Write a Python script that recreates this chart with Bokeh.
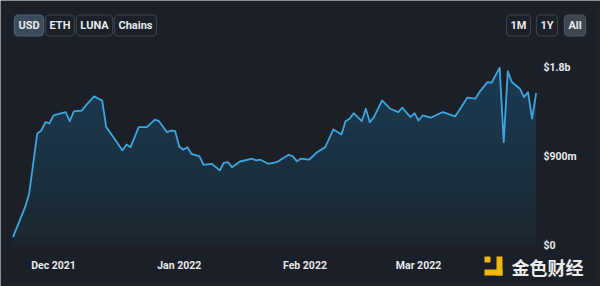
import numpy as np
import pandas as pd
from bokeh.plotting import figure
from bokeh.models import Label, BoxAnnotation, Range1d
from bokeh.embed import file_html
from bokeh.resources import INLINE

# ---- data (TVL in millions USD) ----
dates = ["2021-11-21","2021-11-24","2021-11-25","2021-11-27","2021-11-28","2021-11-29","2021-11-30","2021-12-01","2021-12-04","2021-12-05",
         "2021-12-06","2021-12-08","2021-12-09","2021-12-11","2021-12-13","2021-12-14","2021-12-16","2021-12-18","2021-12-19","2021-12-20",
         "2021-12-22","2021-12-24","2021-12-26","2021-12-27","2021-12-29","2021-12-30","2021-12-31","2022-01-01","2022-01-02","2022-01-03",
         "2022-01-04","2022-01-06","2022-01-07","2022-01-09","2022-01-11","2022-01-12","2022-01-13","2022-01-14","2022-01-16","2022-01-19",
         "2022-01-20","2022-01-21","2022-01-23","2022-01-25","2022-01-28","2022-01-29","2022-01-30","2022-01-31","2022-02-02","2022-02-04",
         "2022-02-06","2022-02-08","2022-02-10","2022-02-11","2022-02-12","2022-02-13","2022-02-15","2022-02-16","2022-02-17","2022-02-18",
         "2022-02-20","2022-02-22","2022-02-24","2022-02-25","2022-02-27","2022-02-28","2022-03-01","2022-03-02","2022-03-04","2022-03-06",
         "2022-03-07","2022-03-10","2022-03-11","2022-03-13","2022-03-15","2022-03-16","2022-03-18","2022-03-19","2022-03-21","2022-03-22",
         "2022-03-23","2022-03-24","2022-03-26","2022-03-27","2022-03-28","2022-03-29","2022-03-30"]
tvl_m = [84,387,525,1131,1161,1245,1232,1313,1346,1255,
         1353,1363,1414,1505,1464,1195,1081,960,1020,993,
         1195,1195,1270,1255,1144,1161,1154,1000,967,993,
         926,899,815,825,758,835,841,791,848,876,
         859,866,825,841,916,899,851,876,866,942,
         993,1172,1121,1255,1280,1336,1255,1381,1245,1296,
         1464,1381,1346,1391,1296,1336,1262,1313,1290,1330,
         1346,1303,1363,1492,1482,1548,1649,1643,1795,1043,
         1760,1650,1583,1498,1548,1280,1538]
x_tick_dates = ["2021-12-01", "2022-01-01", "2022-02-01", "2022-03-01"]
y_ticks = [0, 900, 1800]
y_tick_labels = ["$0", "$900m", "$1.8b"]
left_buttons = ["USD", "ETH", "LUNA", "Chains"]
right_buttons = ["1M", "1Y", "All"]

W, H = 600, 286
BG = "#1b1f27"
LINE = "#3ea6dd"
TXT = "#e8eaed"
FONT = "Roboto"

x = pd.to_datetime(dates)
v = np.array(tvl_m, dtype=float)

# frame covers the whole canvas; ranges chosen so the plot sits where the reference has it
px_per_day = 4.056
x_start = pd.Timestamp("2021-12-01") - pd.Timedelta(days=53 / px_per_day)
x_end = x_start + pd.Timedelta(days=W / px_per_day)
px_per_m = 178.3 / 1800.0
y_top = 245 / px_per_m
y_bot = -(H - 245) / px_per_m

p = figure(width=W, height=H, x_axis_type=None, y_axis_type=None, output_backend="svg", toolbar_location=None,
           x_range=Range1d(x_start, x_end), y_range=Range1d(y_bot, y_top),
           min_border=0, background_fill_color=BG, border_fill_color=BG, outline_line_color=None)
p.grid.visible = False

# gradient-like fill: stacked translucent bands
p.varea(x=x, y1=0, y2=v, fill_color="#2b6f9f", fill_alpha=0.05)
for lvl in np.arange(0, 1900, 95):
    p.varea(x=x, y1=np.minimum(v, lvl), y2=v, fill_color="#2f7fb8", fill_alpha=0.022)
p.line(x=x, y=v, line_color=LINE, line_width=1.8, line_join="round")

# tick labels
for d in x_tick_dates:
    ts = pd.Timestamp(d)
    p.add_layout(Label(x=ts.value / 1e6, y=H - 265, x_units="data", y_units="screen",
                       text=ts.strftime("%b %Y"), text_align="center", text_baseline="middle",
                       text_color=TXT, text_font=FONT, text_font_style="bold", text_font_size="10.5px"))
for t, s in zip(y_ticks, y_tick_labels):
    p.add_layout(Label(x=543, y=t, x_units="screen", y_units="data", text=s,
                       text_align="left", text_baseline="middle",
                       text_color=TXT, text_font=FONT, text_font_style="bold", text_font_size="10.5px"))

# card border
p.add_layout(BoxAnnotation(left=1, right=W - 2, bottom=2, top=H - 2,
                           left_units="screen", right_units="screen", top_units="screen", bottom_units="screen",
                           fill_alpha=0, line_color="#2e343e", line_width=1.2, border_radius=8))

def button(text, cx, cy_top, active=False, gray=False):
    bg, bd = "#1c2129", "#3a414b"
    if active:
        bg, bd = "#3a4b5c", "#4e6072"
    if gray:
        bg, bd = "#40464f", "#4c535d"
    p.add_layout(Label(x=cx, y=H - cy_top, x_units="screen", y_units="screen", text=text,
                       text_align="center", text_baseline="middle", text_color=TXT,
                       text_font=FONT, text_font_style="bold", text_font_size="11px",
                       background_fill_color=bg, border_line_color=bd, border_line_width=1.2,
                       padding=4, border_radius=4))

lcent = [28.5, 59.5, 94, 135]
for t, c in zip(left_buttons, lcent):
    button(t, c, 25, active=(t == "USD"))
rcent = [518, 546.5, 574.5]
for t, c in zip(right_buttons, rcent):
    button(t, c, 25, gray=(t == "All"))

# watermark
p.add_layout(Label(x=547, y=H - 266, x_units="screen", y_units="screen", text="金色财经",
                   text_align="center", text_baseline="middle", text_color="#ececec",
                   text_font="Noto Sans CJK SC", text_font_style="bold", text_font_size="18px"))
YEL = "#f0b90b"
for l, r, t, b in [(484, 490, 256, 262), (496, 502, 256, 275), (484, 502, 269, 275)]:
    p.add_layout(BoxAnnotation(left=l, right=r, top=H - t, bottom=H - b,
                               left_units="screen", right_units="screen", top_units="screen", bottom_units="screen",
                               fill_color=YEL, fill_alpha=1, line_color=None))

open("out.html", "w").write(file_html(p, INLINE))
